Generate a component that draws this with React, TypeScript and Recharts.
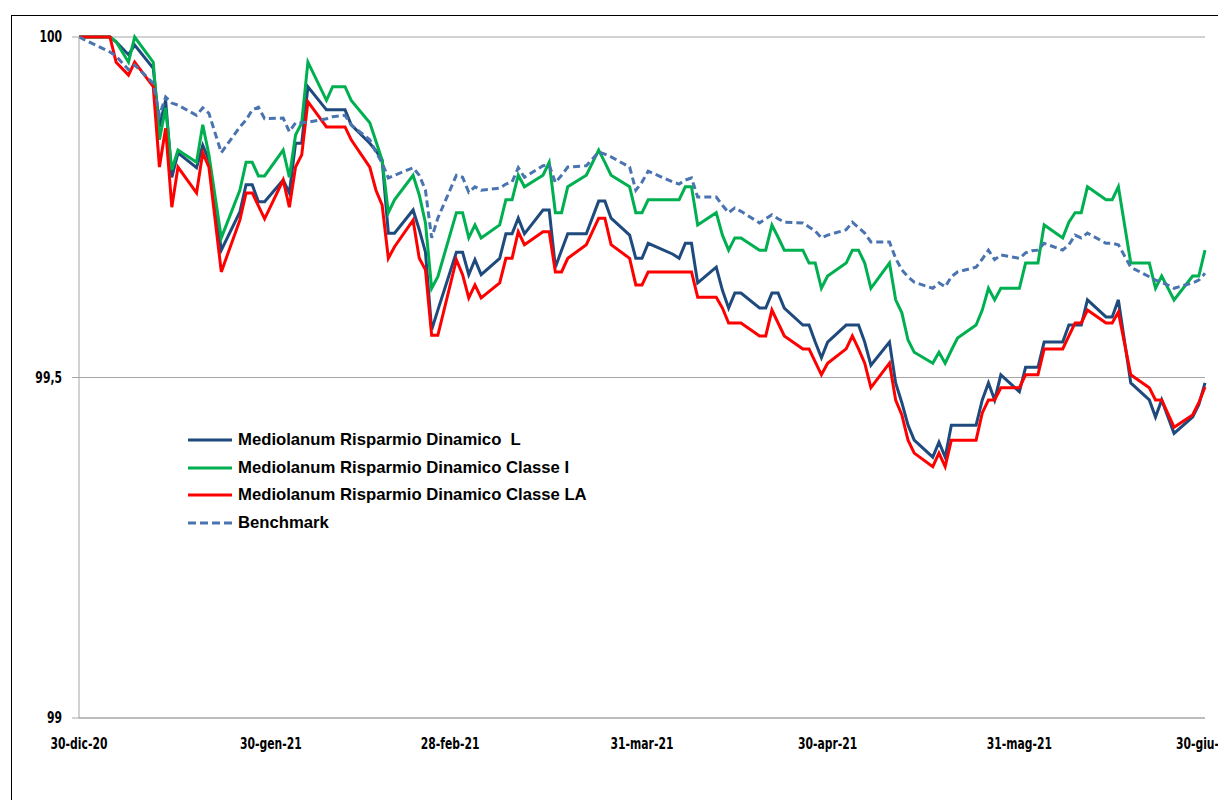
import { CartesianGrid, Line, LineChart, XAxis, YAxis } from "recharts";

// trading days (Dec 30, 2020 -> Jun 30, 2021)
const dates = [
  "2020-12-30",
  "2021-01-04", "2021-01-05", "2021-01-07", "2021-01-08", "2021-01-11", "2021-01-12", "2021-01-13", "2021-01-14", "2021-01-15",
  "2021-01-18", "2021-01-19", "2021-01-20", "2021-01-22", "2021-01-25", "2021-01-26", "2021-01-27", "2021-01-28", "2021-01-29",
  "2021-02-01", "2021-02-02", "2021-02-03", "2021-02-04", "2021-02-05", "2021-02-08", "2021-02-09", "2021-02-11", "2021-02-12",
  "2021-02-15", "2021-02-16", "2021-02-17", "2021-02-18", "2021-02-19", "2021-02-22", "2021-02-23", "2021-02-24", "2021-02-25", "2021-02-26",
  "2021-03-01", "2021-03-02", "2021-03-03", "2021-03-04", "2021-03-05", "2021-03-08", "2021-03-09", "2021-03-10", "2021-03-11", "2021-03-12",
  "2021-03-15", "2021-03-16", "2021-03-17", "2021-03-18", "2021-03-19", "2021-03-22", "2021-03-24", "2021-03-25", "2021-03-26",
  "2021-03-29", "2021-03-30", "2021-03-31",
  "2021-04-01", "2021-04-05", "2021-04-06", "2021-04-07", "2021-04-08", "2021-04-09", "2021-04-12", "2021-04-13", "2021-04-14",
  "2021-04-15", "2021-04-16", "2021-04-19", "2021-04-20", "2021-04-21", "2021-04-22", "2021-04-23", "2021-04-26", "2021-04-27",
  "2021-04-28", "2021-04-29", "2021-04-30",
  "2021-05-03", "2021-05-04", "2021-05-05", "2021-05-06", "2021-05-07", "2021-05-10", "2021-05-11", "2021-05-12", "2021-05-13",
  "2021-05-14", "2021-05-17", "2021-05-18", "2021-05-19", "2021-05-20", "2021-05-21", "2021-05-24", "2021-05-25", "2021-05-26",
  "2021-05-27", "2021-05-28", "2021-05-31",
  "2021-06-01", "2021-06-02", "2021-06-03", "2021-06-04", "2021-06-07", "2021-06-08", "2021-06-09", "2021-06-10", "2021-06-11",
  "2021-06-14", "2021-06-15", "2021-06-16", "2021-06-18", "2021-06-21", "2021-06-22", "2021-06-23", "2021-06-25", "2021-06-28",
  "2021-06-29", "2021-06-30",
];

const classeL = [
  100,
  100, 99.993, 99.974, 99.988, 99.954, 99.868, 99.907, 99.794, 99.83,
  99.808, 99.841, 99.819, 99.687, 99.743, 99.783, 99.783, 99.758, 99.758,
  99.79, 99.771, 99.844, 99.844, 99.927, 99.893, 99.893, 99.893, 99.871,
  99.844, 99.833, 99.819, 99.712, 99.712, 99.746, 99.717, 99.684, 99.57, 99.599,
  99.684, 99.684, 99.651, 99.673, 99.651, 99.675, 99.711, 99.711, 99.734, 99.711,
  99.746, 99.746, 99.662, 99.687, 99.711, 99.711, 99.759, 99.759, 99.734,
  99.709, 99.675, 99.675,
  99.697, 99.681, 99.675, 99.697, 99.697, 99.639, 99.662, 99.628, 99.602,
  99.624, 99.624, 99.602, 99.602, 99.624, 99.624, 99.602, 99.577, 99.577,
  99.552, 99.529, 99.552,
  99.577, 99.577, 99.577, 99.552, 99.518, 99.552, 99.492, 99.463, 99.43,
  99.408, 99.383, 99.405, 99.383, 99.43, 99.43, 99.43, 99.467, 99.492,
  99.467, 99.504, 99.479,
  99.515, 99.515, 99.515, 99.552, 99.552, 99.577, 99.577, 99.577, 99.614,
  99.589, 99.589, 99.614, 99.492, 99.467, 99.442, 99.467, 99.418, 99.442,
  99.46, 99.492,
];

const classeI = [
  100,
  100, 99.993, 99.963, 100, 99.963, 99.849, 99.896, 99.805, 99.834,
  99.816, 99.871, 99.827, 99.705, 99.775, 99.816, 99.816, 99.796, 99.796,
  99.834, 99.794, 99.856, 99.874, 99.963, 99.907, 99.927, 99.927, 99.907,
  99.874, 99.847, 99.819, 99.742, 99.761, 99.797, 99.768, 99.727, 99.631, 99.648,
  99.742, 99.742, 99.705, 99.724, 99.705, 99.724, 99.761, 99.761, 99.797, 99.78,
  99.797, 99.816, 99.742, 99.742, 99.78, 99.797, 99.834, 99.816, 99.797,
  99.78, 99.742, 99.742,
  99.761, 99.761, 99.761, 99.78, 99.78, 99.724, 99.742, 99.709, 99.687,
  99.705, 99.705, 99.687, 99.687, 99.724, 99.706, 99.687, 99.687, 99.668,
  99.668, 99.631, 99.649,
  99.668, 99.687, 99.687, 99.668, 99.631, 99.668, 99.614, 99.595, 99.555,
  99.537, 99.521, 99.537, 99.521, 99.54, 99.558, 99.577, 99.599, 99.631,
  99.614, 99.631, 99.631,
  99.668, 99.668, 99.668, 99.724, 99.705, 99.728, 99.742, 99.742, 99.78,
  99.761, 99.761, 99.78, 99.668, 99.668, 99.631, 99.649, 99.614, 99.649,
  99.649, 99.687,
];

const classeLA = [
  100,
  100, 99.963, 99.944, 99.963, 99.927, 99.809, 99.866, 99.75, 99.809,
  99.771, 99.83, 99.809, 99.655, 99.731, 99.771, 99.771, 99.752, 99.733,
  99.79, 99.75, 99.809, 99.827, 99.905, 99.868, 99.868, 99.868, 99.849,
  99.809, 99.775, 99.753, 99.675, 99.692, 99.731, 99.675, 99.658, 99.562, 99.562,
  99.673, 99.651, 99.617, 99.636, 99.617, 99.639, 99.675, 99.675, 99.714, 99.695,
  99.714, 99.714, 99.655, 99.655, 99.675, 99.695, 99.734, 99.734, 99.695,
  99.675, 99.636, 99.636,
  99.655, 99.655, 99.655, 99.655, 99.655, 99.618, 99.618, 99.602, 99.58,
  99.58, 99.58, 99.561, 99.561, 99.599, 99.58, 99.561, 99.542, 99.542,
  99.523, 99.504, 99.521,
  99.542, 99.561, 99.542, 99.521, 99.485, 99.521, 99.467, 99.445, 99.408,
  99.389, 99.369, 99.389, 99.369, 99.408, 99.408, 99.408, 99.448, 99.467,
  99.467, 99.485, 99.485,
  99.504, 99.504, 99.504, 99.542, 99.542, 99.561, 99.58, 99.58, 99.599,
  99.58, 99.58, 99.596, 99.504, 99.485, 99.467, 99.467, 99.427, 99.445,
  99.463, 99.486,
];

const benchmark = [
  100,
  99.978, 99.972, 99.952, 99.959, 99.932, 99.885, 99.912, 99.903, 99.9,
  99.885, 99.896, 99.888, 99.83, 99.868, 99.878, 99.893, 99.897, 99.88,
  99.881, 99.861, 99.874, 99.874, 99.875, 99.88, 99.883, 99.885, 99.871,
  99.849, 99.831, 99.815, 99.793, 99.797, 99.808, 99.797, 99.775, 99.705, 99.734,
  99.797, 99.794, 99.772, 99.78, 99.775, 99.778, 99.784, 99.787, 99.808, 99.794,
  99.811, 99.812, 99.786, 99.797, 99.809, 99.811, 99.831, 99.828, 99.824,
  99.809, 99.775, 99.787,
  99.803, 99.787, 99.784, 99.79, 99.793, 99.765, 99.765, 99.753, 99.742,
  99.749, 99.744, 99.727, 99.733, 99.739, 99.733, 99.728, 99.727, 99.721,
  99.715, 99.705, 99.709,
  99.717, 99.728, 99.72, 99.712, 99.699, 99.699, 99.675, 99.658, 99.648,
  99.64, 99.631, 99.639, 99.633, 99.648, 99.655, 99.662, 99.674, 99.687,
  99.673, 99.68, 99.675,
  99.683, 99.686, 99.687, 99.697, 99.687, 99.695, 99.709, 99.705, 99.712,
  99.697, 99.697, 99.695, 99.662, 99.648, 99.643, 99.64, 99.631, 99.639,
  99.643, 99.653,
];

const tickDates = ["2020-12-30", "2021-01-30", "2021-02-28", "2021-03-31", "2021-04-30", "2021-05-31", "2021-06-30"];
const tickLabels = ["30-dic-20", "30-gen-21", "28-feb-21", "31-mar-21", "30-apr-21", "31-mag-21", "30-giu-21"];
const yTicks = [99, 99.5, 100];

const series = [
  { key: "l", name: "Mediolanum Risparmio Dinamico  L", color: "#1f4a7d", dash: undefined },
  { key: "i", name: "Mediolanum Risparmio Dinamico Classe I", color: "#00b050", dash: undefined },
  { key: "la", name: "Mediolanum Risparmio Dinamico Classe LA", color: "#ff0000", dash: undefined },
  { key: "bm", name: "Benchmark", color: "#4a74b0", dash: "7 4" },
];

const DAY = 86400000;
const start = Date.parse(dates[0]);
const toDay = (d: string) => Math.round((Date.parse(d) - start) / DAY);

const data = dates.map((d, idx) => ({
  t: toDay(d),
  l: classeL[idx],
  i: classeI[idx],
  la: classeLA[idx],
  bm: benchmark[idx],
}));

const xTicks = tickDates.map(toDay);
const labelFont = "'DejaVu Sans Condensed', 'DejaVu Sans', sans-serif";

// condensed bold tick text (squeezed horizontally like the original axis font)
function NarrowTick(props: any) {
  const { x, y, payload, textAnchor, axis } = props;
  const label =
    axis === "x"
      ? tickLabels[xTicks.indexOf(payload.value)] ?? ""
      : String(payload.value).replace(".", ",");
  return (
    <text
      transform={`translate(${x},${y}) scale(0.8,1)`}
      textAnchor={textAnchor}
      dy={axis === "x" ? "0.71em" : "0.36em"}
      fill="#000"
      fontSize={15}
      fontWeight={700}
      fontFamily={labelFont}
    >
      {label}
    </text>
  );
}

function LegendBox() {
  return (
    <div
      style={{
        position: "absolute",
        left: 180,
        top: 418,
        fontFamily: "'Liberation Sans', Arial, sans-serif",
        fontWeight: 700,
        fontSize: 16.7,
        color: "#000",
      }}
    >
      {series.map((s) => (
        <div key={s.key} style={{ display: "flex", alignItems: "center", height: 27.7 }}>
          <svg width={44} height={6} style={{ marginRight: 6 }}>
            <line x1={0} y1={3} x2={44} y2={3} stroke={s.color} strokeWidth={3} strokeDasharray={s.dash ? "8 4" : undefined} />
          </svg>
          <span style={{ whiteSpace: "pre" }}>{s.name}</span>
        </div>
      ))}
    </div>
  );
}

export default function App() {
  return (
    <div style={{ position: "relative", width: 1218, height: 792, overflow: "hidden", background: "#fff" }}>
      <div
        style={{
          position: "absolute",
          left: 3,
          top: 7,
          width: 1400,
          height: 1000,
          border: "1px solid #000",
        }}
      />
      <div style={{ position: "absolute", left: 0, top: 0 }}>
        <LineChart width={1218} height={792} data={data} margin={{ top: 29, right: 21, left: 11, bottom: 52 }}>
          <CartesianGrid vertical={false} stroke="#a6a6a6" />
          <XAxis
            dataKey="t"
            type="number"
            domain={[0, 182]}
            ticks={xTicks}
            interval={0}
            stroke="#a6a6a6"
            tickLine={false}
            tickSize={0}
            tickMargin={20}
            height={30}
            tick={(p: any) => <NarrowTick {...p} axis="x" />}
          />
          <YAxis
            domain={[99, 100]}
            ticks={yTicks}
            interval={0}
            width={60}
            stroke="#a6a6a6"
            tickSize={7}
            tickMargin={10}
            tick={(p: any) => <NarrowTick {...p} axis="y" />}
          />
          {series.map((s) => (
            <Line
              key={s.key}
              dataKey={s.key}
              name={s.name}
              type="linear"
              stroke={s.color}
              strokeWidth={3}
              strokeDasharray={s.dash}
              dot={false}
              activeDot={false}
              isAnimationActive={false}
            />
          ))}
        </LineChart>
      </div>
      <LegendBox />
    </div>
  );
}
